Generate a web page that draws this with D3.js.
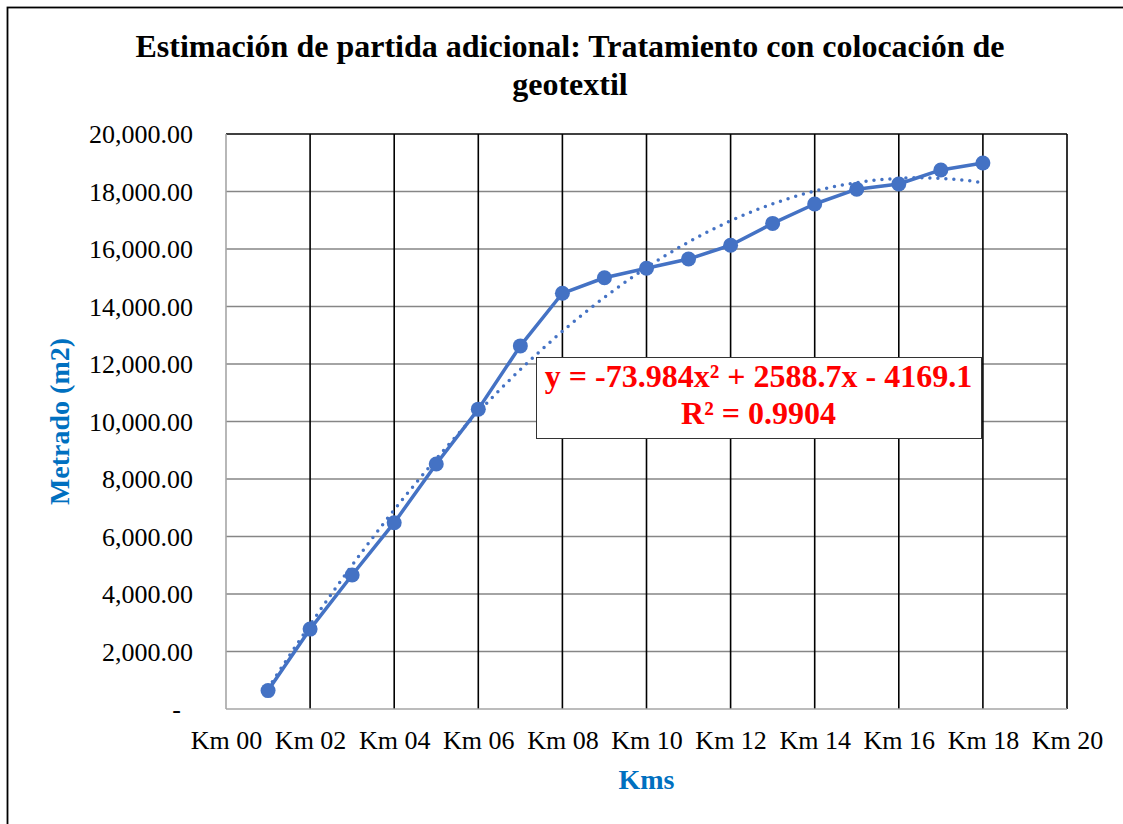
<!DOCTYPE html>
<html>
<head>
<meta charset="utf-8">
<script src="https://cdn.jsdelivr.net/npm/d3@7"></script>
<style>
  html, body { margin: 0; padding: 0; background: #ffffff; }
  svg text { font-family: "Liberation Serif", "Times New Roman", serif; }
</style>
</head>
<body>
<svg id="chart" width="1123" height="824"></svg>
<script>
// Cumulative metrado (m2) per kilometre
const kms = [1, 2, 3, 4, 5, 6, 7, 8, 9, 10, 11, 12, 13, 14, 15, 16, 17, 18];
const metrado = [640, 2780, 4660, 6480, 8520, 10430, 12630, 14460, 15000,
                 15330, 15650, 16130, 16890, 17565, 18080, 18260, 18750, 18990];

const xTicks = [0, 2, 4, 6, 8, 10, 12, 14, 16, 18, 20];
const xTickLabels = ["Km 00", "Km 02", "Km 04", "Km 06", "Km 08", "Km 10",
                     "Km 12", "Km 14", "Km 16", "Km 18", "Km 20"];
const yTicks = [0, 2000, 4000, 6000, 8000, 10000, 12000, 14000, 16000, 18000, 20000];
const yTickLabels = ["-", "2,000.00", "4,000.00", "6,000.00", "8,000.00", "10,000.00",
                     "12,000.00", "14,000.00", "16,000.00", "18,000.00", "20,000.00"];

// Polynomial trendline (order 2); x is the category index, i.e. Km + 1
const trendCoef = { a: -73.984, b: 2588.7, c: -4169.1 };
const trendLabel = ["y = -73.984x² + 2588.7x - 4169.1", "R² = 0.9904"];

const titleLines = ["Estimación de partida adicional: Tratamiento con colocación de", "geotextil"];
const xTitle = "Kms";
const yTitle = "Metrado (m2)";

const blue = "#4472C4";
const axisBlue = "#0070C0";

const svg = d3.select("#chart");
const plot = { left: 226, right: 1067, top: 134, bottom: 709 };

const x = d3.scaleLinear().domain([0, 20]).range([plot.left, plot.right]);
const y = d3.scaleLinear().domain([0, 20000]).range([plot.bottom, plot.top]);

// Outer chart frame
svg.append("rect")
  .attr("x", 7.5).attr("y", 7.5)
  .attr("width", 1126).attr("height", 830)
  .attr("fill", "#ffffff").attr("stroke", "#000000").attr("stroke-width", 1.8);

// Title
svg.append("text")
  .attr("text-anchor", "middle")
  .attr("font-size", 32).attr("font-weight", "bold").attr("fill", "#000")
  .selectAll("tspan").data(titleLines).join("tspan")
  .attr("x", 570).attr("y", (d, i) => 57 + i * 38)
  .text(d => d);

// Horizontal gridlines
svg.append("g")
  .selectAll("line").data(yTicks.filter(v => v > 0 && v < 20000)).join("line")
  .attr("x1", plot.left).attr("x2", plot.right)
  .attr("y1", d => y(d)).attr("y2", d => y(d))
  .attr("stroke", "#868686").attr("stroke-width", 1.6);

// Vertical gridlines
svg.append("g")
  .selectAll("line").data(xTicks.filter(v => v > 0)).join("line")
  .attr("x1", d => x(d)).attr("x2", d => x(d))
  .attr("y1", plot.top).attr("y2", plot.bottom)
  .attr("stroke", "#000000").attr("stroke-width", 1.6);

// Plot-area top border
svg.append("line")
  .attr("x1", plot.left).attr("x2", plot.right)
  .attr("y1", plot.top).attr("y2", plot.top)
  .attr("stroke", "#000").attr("stroke-width", 1.6);

// Axes lines (grey)
svg.append("line")
  .attr("x1", plot.left).attr("x2", plot.left)
  .attr("y1", plot.top).attr("y2", plot.bottom)
  .attr("stroke", "#a6a6a6").attr("stroke-width", 1.6);
svg.append("line")
  .attr("x1", plot.left).attr("x2", plot.right)
  .attr("y1", plot.bottom).attr("y2", plot.bottom)
  .attr("stroke", "#a6a6a6").attr("stroke-width", 1.6);

// X axis tick labels
const xAxis = d3.axisBottom(x).tickValues(xTicks)
  .tickFormat((d, i) => xTickLabels[i]).tickSize(0).tickPadding(0);
const gx = svg.append("g").attr("transform", `translate(0,${plot.bottom})`).call(xAxis);
gx.select(".domain").remove();
gx.selectAll("text")
  .attr("font-size", 26).attr("fill", "#000")
  .attr("font-family", "Liberation Serif, Times New Roman, serif")
  .attr("dy", null).attr("y", 40);

// Y axis tick labels
const yAxis = d3.axisLeft(y).tickValues(yTicks)
  .tickFormat((d, i) => yTickLabels[i]).tickSize(0).tickPadding(0);
const gy = svg.append("g").attr("transform", `translate(193,0)`).call(yAxis);
gy.select(".domain").remove();
gy.selectAll("text")
  .attr("font-size", 26).attr("fill", "#000")
  .attr("font-family", "Liberation Serif, Times New Roman, serif")
  .attr("dy", "0.33em")
  .attr("x", (d, i) => yTickLabels[i] === "-" ? -12 : 0);

// Axis titles
svg.append("text")
  .attr("x", (plot.left + plot.right) / 2).attr("y", 789)
  .attr("text-anchor", "middle")
  .attr("font-size", 28).attr("font-weight", "bold").attr("fill", axisBlue)
  .text(xTitle);
svg.append("text")
  .attr("transform", `translate(69,${(plot.top + plot.bottom) / 2}) rotate(-90)`)
  .attr("text-anchor", "middle")
  .attr("font-size", 28).attr("font-weight", "bold").attr("fill", axisBlue)
  .text(yTitle);

// Trendline from the fitted polynomial
const trendPts = d3.range(kms[0], kms[kms.length - 1] + 0.001, 0.1).map(k => {
  const t = k + 1;
  return [k, trendCoef.a * t * t + trendCoef.b * t + trendCoef.c];
});
svg.append("path")
  .datum(trendPts)
  .attr("d", d3.line().x(d => x(d[0])).y(d => y(d[1])).curve(d3.curveLinear))
  .attr("fill", "none").attr("stroke", blue).attr("stroke-width", 3.5)
  .attr("stroke-linecap", "round").attr("stroke-dasharray", "0 8");

// Data series line
const series = kms.map((k, i) => [k, metrado[i]]);
svg.append("path")
  .datum(series)
  .attr("d", d3.line().x(d => x(d[0])).y(d => y(d[1])))
  .attr("fill", "none").attr("stroke", blue).attr("stroke-width", 3.5)
  .attr("stroke-linejoin", "round");

// Markers
svg.append("g")
  .selectAll("circle").data(series).join("circle")
  .attr("cx", d => x(d[0])).attr("cy", d => y(d[1]))
  .attr("r", 7.5).attr("fill", blue);

// Trendline equation label
const box = { x: 536, y: 357, w: 445, h: 81 };
svg.append("rect")
  .attr("x", box.x + 0.5).attr("y", box.y + 0.5)
  .attr("width", box.w).attr("height", box.h)
  .attr("fill", "#ffffff").attr("stroke", "#333333").attr("stroke-width", 1);
svg.append("text")
  .attr("text-anchor", "middle")
  .attr("font-size", 32).attr("font-weight", "bold").attr("fill", "#ff0000")
  .selectAll("tspan").data(trendLabel).join("tspan")
  .attr("x", box.x + box.w / 2).attr("y", (d, i) => 387 + i * 37)
  .text(d => d);
</script>
</body>
</html>
